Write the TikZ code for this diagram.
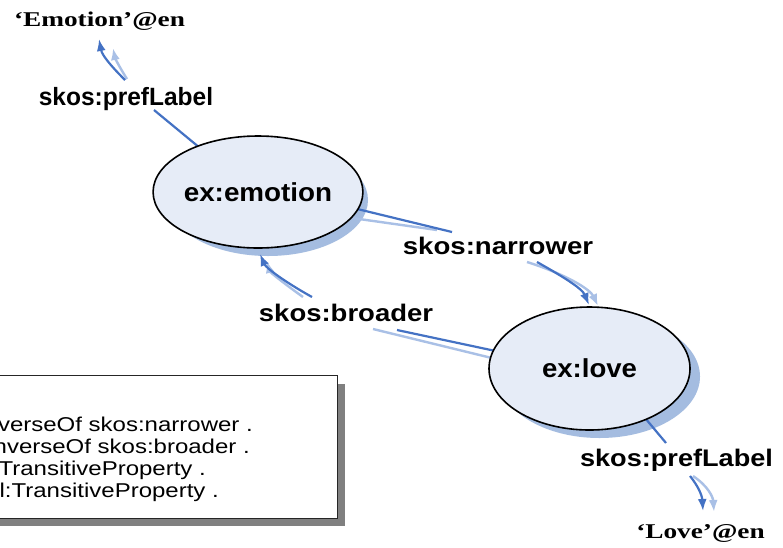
\documentclass[tikz,border=0pt]{standalone}
\usepackage{fontspec}
\usepackage{graphicx}
\setsansfont{Liberation Sans}
\newfontfamily\serf{Liberation Serif}
\usetikzlibrary{shapes.geometric,arrows.meta,backgrounds}
\definecolor{dk}{HTML}{4472C4}
\definecolor{lt}{HTML}{A9C0E6}
\definecolor{shd}{HTML}{A4BCE0}
\definecolor{efill}{HTML}{E6ECF7}
\definecolor{boxshd}{HTML}{808080}
\tikzset{
  concept/.style={ellipse, draw=black, line width=1.6pt, fill=efill, text=black,
    font=\sffamily\bfseries\fontsize{26}{30}\selectfont, inner sep=0pt},
  rel/.style={font=\sffamily\bfseries\fontsize{24}{28}\selectfont, inner sep=0pt, anchor=base, text=black},
  lit/.style={font=\serf\bfseries\fontsize{21}{25}\selectfont, inner sep=0pt, anchor=base, text=black},
  dkline/.style={draw=dk, line width=2.2pt},
  ltline/.style={draw=lt, line width=2.4pt},
  dkarrow/.style={dkline, -{Latex[length=12pt,width=9pt]}},
  ltarrow/.style={ltline, -{Latex[length=12pt,width=9pt]}},
  boxtext/.style={font=\sffamily\fontsize{20}{23}\selectfont, inner sep=0pt, anchor=base east, text=black},
}
\begin{document}
\begin{tikzpicture}[x=1pt,y=-1pt]
\useasboundingbox (0,0) rectangle (783,547);
\clip (0,0) rectangle (783,547);

% concepts
\node[concept, minimum width=200pt, minimum height=112pt] (emo) at (258,192) {\scalebox{1.07}[1]{ex:emotion}};
\node[concept, minimum width=201pt, minimum height=123pt] (love) at (589.5,368.5) {\scalebox{1.06}[1]{ex:love}};

% literals and relation labels
\node[lit] (lit1) at (99.5,26) {\scalebox{1.3}[1]{‘Emotion’@en}};
\node[lit] (lit2) at (700.5,538) {\scalebox{1.3}[1]{‘Love’@en}};
\node[rel, font=\sffamily\bfseries\fontsize{25}{29}\selectfont] (pl1) at (126,105) {\scalebox{0.98}[1]{skos:prefLabel}};
\node[rel] (narr) at (498,254) {\scalebox{1.15}[1]{skos:narrower}};
\node[rel] (broad) at (346,321.5) {\scalebox{1.145}[1]{skos:broader}};
\node[rel] (pl2) at (676.5,466.5) {\scalebox{1.13}[1]{skos:prefLabel}};

% connector end points
\coordinate (e1a) at (200,148);
\coordinate (e1b) at (154,110);
\coordinate (e1c) at (125,80);
\coordinate (e1d) at (99,39);
\coordinate (e1l) at (127,79);
\coordinate (e1m) at (113,48);

\coordinate (e2a) at (345,206);
\coordinate (e2b) at (452,232);
\coordinate (e2la) at (345,217);
\coordinate (e2lb) at (437,230);
\coordinate (e2c) at (537,262);
\coordinate (e2d) at (589,305);
\coordinate (e2lc) at (527,262);
\coordinate (e2ld) at (598,306);

\coordinate (e3a) at (505,353);
\coordinate (e3b) at (397,330);
\coordinate (e3la) at (500,360);
\coordinate (e3lb) at (373,329);
\coordinate (e3c) at (312,297);
\coordinate (e3d) at (260,254);
\coordinate (e3lc) at (303,297);
\coordinate (e3ld) at (267,261);

\coordinate (e4a) at (630,400);
\coordinate (e4b) at (666,443);
\coordinate (e4c) at (690,476);
\coordinate (e4d) at (703,511);
\coordinate (e4lc) at (693,476);
\coordinate (e4ld) at (714,512);

\begin{scope}[on background layer]
  \fill[white] (0,0) rectangle (783,547);
  % shadows of the concepts
  \fill[shd] ([shift={(10,8)}]emo.center) ellipse [x radius=100pt, y radius=56pt];
  \fill[shd] ([shift={(10,8)}]love.center) ellipse [x radius=100.5pt, y radius=61.5pt];
  % prefLabel (emotion)
  \draw[dkline] (e1a) -- (e1b);
  \draw[ltarrow] (e1l) .. controls (120,68) and (115,58) .. (e1m);
  \draw[dkarrow] (e1c) .. controls (110,65) and (102,55) .. (e1d);
  % narrower
  \draw[ltline] (e2la) -- (e2lb);
  \draw[dkline] (e2a) -- (e2b);
  \draw[ltarrow] (e2lc) .. controls (565,274) and (590,289) .. (e2ld);
  \draw[dkarrow] (e2c) .. controls (560,275) and (582,288) .. (e2d);
  % broader
  \draw[ltline] (e3la) -- (e3lb);
  \draw[dkline] (e3a) -- (e3b);
  \draw[ltarrow] (e3lc) .. controls (282,282) and (270,272) .. (e3ld);
  \draw[dkarrow] (e3c) .. controls (285,282) and (266,268) .. (e3d);
  % prefLabel (love)
  \draw[dkline] (e4a) -- (e4b);
  \draw[ltarrow] (e4lc) .. controls (708,486) and (713,497) .. (e4ld);
  \draw[dkarrow] (e4c) .. controls (698,486) and (702,495) .. (e4d);
\end{scope}

% box with axioms
\fill[boxshd] (-10,384) rectangle (345,526);
\node[draw=black!85, line width=1pt, fill=white, minimum width=357pt, minimum height=143pt, inner sep=0pt, anchor=north west] (box) at (-20,375) {};
\node[boxtext] (t1) at (253,431) {\scalebox{1.2}[1]{verseOf skos:narrower .}};
\node[boxtext] (t2) at (250,453) {\scalebox{1.2}[1]{nverseOf skos:broader .}};
\node[boxtext] (t3) at (206,475) {\scalebox{1.2}[1]{TransitiveProperty .}};
\node[boxtext] (t4) at (219,497) {\scalebox{1.2}[1]{l:TransitiveProperty .}};
\end{tikzpicture}
\end{document}
